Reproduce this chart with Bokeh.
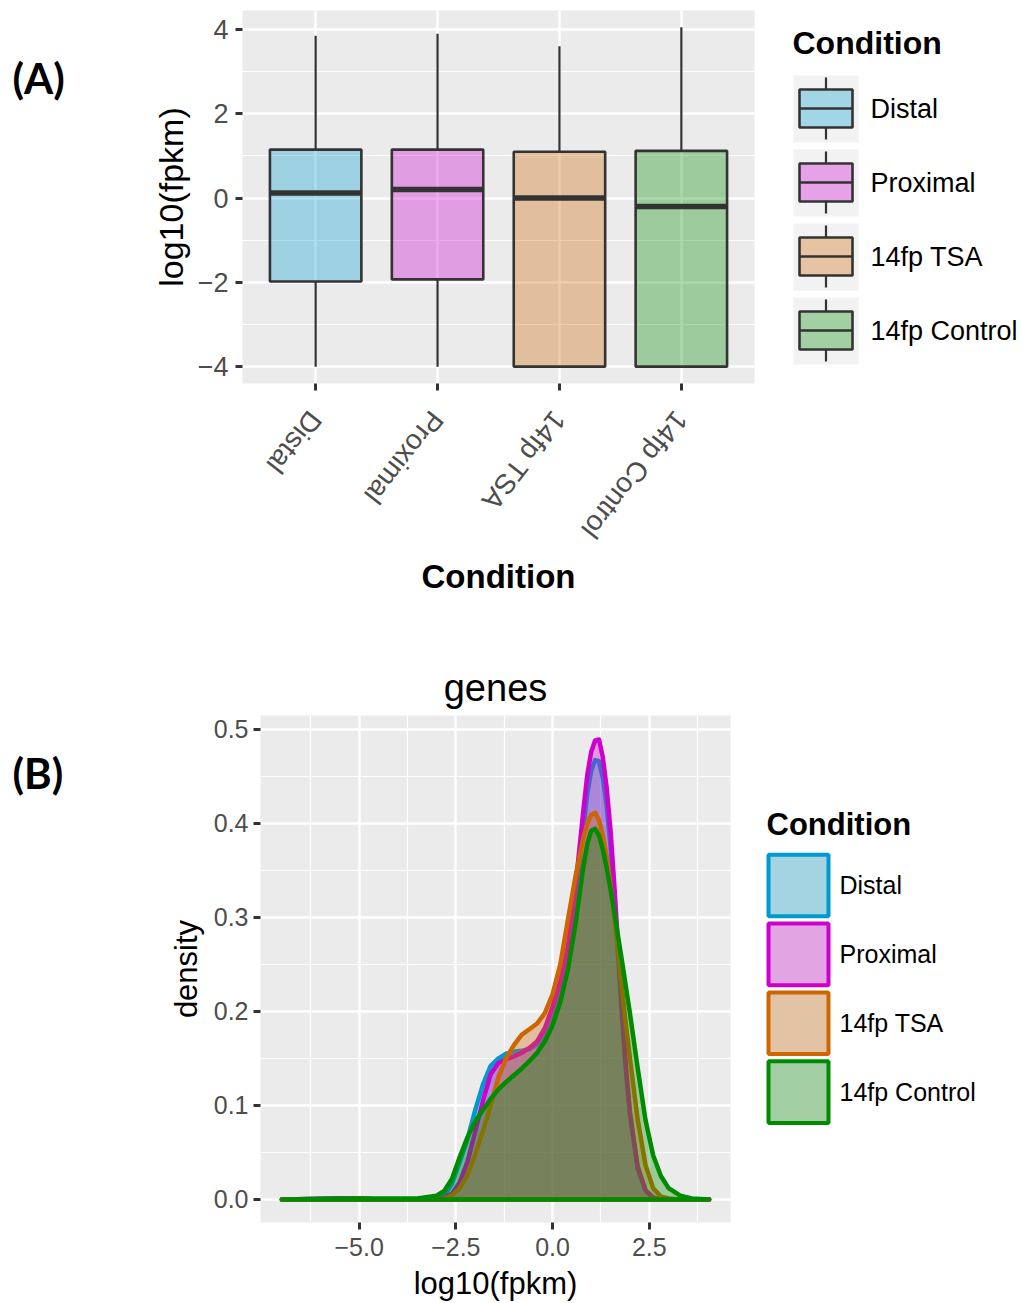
import math
from bokeh.plotting import figure
from bokeh.layouts import row, column
from bokeh.models import (Range1d, FixedTicker, CustomJSTickFormatter, ColumnDataSource)
from bokeh.embed import file_html
from bokeh.resources import INLINE
from bokeh.core.properties import value

# ---------------- data ----------------
categories = ["Distal", "Proximal", "14fp TSA", "14fp Control"]
line_colors = ["#009ACD", "#CD00CD", "#CD6600", "#008B00"]
panel_tags = ["(A)", "(B)"]

# panel A: box plot statistics of log10(fpkm)
whisker_high = [3.85, 3.90, 3.60, 4.05]
q3_vals = [1.15, 1.15, 1.10, 1.12]
median_vals = [0.12, 0.20, 0.00, -0.20]
q1_vals = [-1.98, -1.93, -4.00, -4.00]
whisker_low = [-4.00, -4.00, -4.00, -4.00]
y_ticks_a = [-4, -2, 0, 2, 4]
y_minor_a = [-3, -1, 1, 3]

# panel B: density curves of log10(fpkm)
density_x = [-7.0, -5.5, -5.0, -4.5, -3.5, -3.0, -2.8, -2.6, -2.4, -2.2, -2.0,
             -1.8, -1.6, -1.4, -1.2, -1.0, -0.8, -0.6, -0.4, -0.2, 0.0, 0.2,
             0.4, 0.6, 0.8, 0.9, 1.0, 1.1, 1.2, 1.3, 1.4, 1.5, 1.6, 1.7, 1.8,
             1.9, 2.0, 2.2, 2.4, 2.6, 2.8, 3.0, 3.3, 3.6, 4.05]
density_distal = [0, 0.001, 0.001, 0, 0, 0.001, 0.004, 0.017, 0.040, 0.064, 0.095,
                  0.122, 0.142, 0.150, 0.155, 0.157, 0.158, 0.160, 0.165, 0.175, 0.192, 0.220,
                  0.262, 0.322, 0.395, 0.432, 0.456, 0.467, 0.466, 0.448, 0.418, 0.375, 0.318, 0.255, 0.190,
                  0.135, 0.090, 0.033, 0.010, 0.002, 0, 0, 0, 0, 0]
density_proximal = [0, 0.001, 0.001, 0, 0, 0, 0.002, 0.006, 0.018, 0.040, 0.072,
                    0.105, 0.133, 0.145, 0.149, 0.152, 0.156, 0.161, 0.168, 0.182, 0.205, 0.232,
                    0.270, 0.335, 0.415, 0.452, 0.476, 0.488, 0.489, 0.470, 0.437, 0.392, 0.332, 0.265, 0.197,
                    0.140, 0.093, 0.035, 0.010, 0.002, 0, 0, 0, 0, 0]
density_tsa = [0, 0, 0.001, 0, 0, 0, 0.001, 0.004, 0.012, 0.026, 0.048,
               0.073, 0.100, 0.130, 0.150, 0.164, 0.175, 0.181, 0.187, 0.198, 0.218, 0.250,
               0.298, 0.345, 0.385, 0.400, 0.409, 0.411, 0.403, 0.387, 0.364, 0.334, 0.300, 0.262, 0.222,
               0.185, 0.150, 0.085, 0.037, 0.012, 0.003, 0.001, 0, 0, 0]
density_control = [0, 0.001, 0.001, 0.001, 0.001, 0.004, 0.009, 0.022, 0.045, 0.066, 0.083,
                   0.095, 0.107, 0.117, 0.125, 0.132, 0.139, 0.147, 0.156, 0.168, 0.185, 0.210,
                   0.245, 0.295, 0.355, 0.378, 0.392, 0.394, 0.387, 0.372, 0.352, 0.330, 0.305, 0.278, 0.252,
                   0.225, 0.198, 0.140, 0.085, 0.047, 0.025, 0.012, 0.004, 0.001, 0]
density_series = [density_distal, density_proximal, density_tsa, density_control]
x_ticks_b = [-5.0, -2.5, 0.0, 2.5]
x_minor_b = [-6.25, -3.75, -1.25, 1.25, 3.75]
y_ticks_b = [0.0, 0.1, 0.2, 0.3, 0.4, 0.5]
y_minor_b = [0.05, 0.15, 0.25, 0.35, 0.45]

# ---------------- style ----------------
FONT = "Liberation Sans"
PANEL_BG = "#EBEBEB"
TICK_COL = "#4D4D4D"
DARK = "#333333"
FILL_ALPHA = 0.33
DENS_ALPHA = 0.35


def style_axes(p, tick_px, title_px):
    for ax in (p.xaxis, p.yaxis):
        ax.axis_line_color = None
        ax.major_tick_line_color = DARK
        ax.major_tick_line_width = 3
        ax.major_tick_out = 7
        ax.major_tick_in = 0
        ax.minor_tick_line_color = None
        ax.major_label_text_font = FONT
        ax.major_label_text_font_size = tick_px
        ax.major_label_text_color = TICK_COL
        ax.axis_label_text_font = FONT
        ax.axis_label_text_font_size = title_px
        ax.axis_label_text_color = "black"
        ax.axis_label_text_font_style = "normal"
    p.grid.grid_line_color = "white"
    p.grid.grid_line_width = 2.4
    p.grid.minor_grid_line_color = "white"
    p.grid.minor_grid_line_width = 1.2
    p.background_fill_color = PANEL_BG
    p.outline_line_color = None


def blank_fig(width, height, xr, yr, top, bottom):
    f = figure(width=width, height=height, output_backend="svg", toolbar_location=None,
               x_range=Range1d(*xr), y_range=Range1d(*yr),
               min_border_left=0, min_border_right=0, min_border_top=top,
               min_border_bottom=bottom, x_axis_location=None, y_axis_location=None)
    f.grid.visible = False
    f.outline_line_color = None
    f.background_fill_color = "white"
    return f


# ---------------- row A ----------------
A_H, A_TOP, A_BOT = 610, 10, 227          # frame spans y 10..383
positions = [i + 1 for i in range(len(categories))]
half = 0.375

pa = figure(width=690, height=A_H, output_backend="svg", toolbar_location=None,
            x_range=Range1d(0.4, 4.6), y_range=Range1d(-4.40, 4.45),
            min_border_left=152, min_border_right=26, min_border_top=A_TOP,
            min_border_bottom=A_BOT)
style_axes(pa, "27px", "34px")
pa.xaxis.ticker = FixedTicker(ticks=positions)
pa.xaxis.major_label_overrides = {p: c for p, c in zip(positions, categories)}
pa.xaxis.major_label_orientation = -math.radians(128)
pa.xaxis.major_label_text_font_size = "28px"
pa.xaxis.major_label_standoff = 24
pa.xaxis.axis_label = "Condition"
pa.xaxis.axis_label_text_font_size = "33px"
pa.xaxis.axis_label_text_font_style = "bold"
pa.xaxis.axis_label_standoff = 39
pa.yaxis.ticker = FixedTicker(ticks=y_ticks_a, minor_ticks=y_minor_a)
pa.yaxis.formatter = CustomJSTickFormatter(
    code="return (tick < 0 ? '\u2212' : '') + Math.abs(tick).toFixed(0);")
pa.yaxis.major_label_standoff = 7
pa.yaxis.axis_label = "log10(fpkm)"
pa.yaxis.axis_label_standoff = 5
pa.xgrid.minor_grid_line_color = None

box_src = ColumnDataSource(dict(
    x=positions, q1=q1_vals, q3=q3_vals, med=median_vals,
    lo=whisker_low, hi=whisker_high, color=line_colors,
    x0=[p - half for p in positions], x1=[p + half for p in positions]))
pa.segment(x0="x", y0="q3", x1="x", y1="hi", source=box_src, line_color=DARK, line_width=2.2)
pa.segment(x0="x", y0="q1", x1="x", y1="lo", source=box_src, line_color=DARK, line_width=2.2)
pa.vbar(x="x", width=2 * half, top="q3", bottom="q1", source=box_src,
        fill_color="color", fill_alpha=FILL_ALPHA, line_color=DARK, line_width=2.6)
pa.segment(x0="x0", y0="med", x1="x1", y1="med", source=box_src, line_color=DARK, line_width=5.5)

# tag column A (local x, image y)
ta = blank_fig(90, A_H, (0, 90), (383, 10), A_TOP, A_BOT)
ta.text(x=[12], y=[77], text=[panel_tags[0]], text_font=value("Lato"), text_font_size=value("42px"),
        text_font_style="bold", text_baseline="middle", text_align="left", text_color="black")

# legend A (local x = image x - 780, image y)
la = blank_fig(243, A_H, (0, 243), (383, 10), A_TOP, A_BOT)
ya = [108 + 74 * i for i in range(len(categories))]
leg_a = ColumnDataSource(dict(
    yc=ya, color=line_colors, text=categories,
    ktop=[y - 33 for y in ya], kbot=[y + 34 for y in ya],
    btop=[y - 19 for y in ya], bbot=[y + 19 for y in ya],
    wtop=[y - 31 for y in ya], wbot=[y + 31 for y in ya]))
la.quad(left=13, right=78, top="ktop", bottom="kbot", source=leg_a, fill_color="#F2F2F2", line_color=None)
la.segment(x0=45.5, y0="wtop", x1=45.5, y1="btop", source=leg_a, line_color=DARK, line_width=2.2)
la.segment(x0=45.5, y0="bbot", x1=45.5, y1="wbot", source=leg_a, line_color=DARK, line_width=2.2)
la.quad(left=19, right=72, top="btop", bottom="bbot", source=leg_a, fill_color="color",
        fill_alpha=FILL_ALPHA, line_color=DARK, line_width=2.6)
la.segment(x0=19, y0="yc", x1=72, y1="yc", source=leg_a, line_color=DARK, line_width=2.6)
la.text(x=90, y="yc", text="text", source=leg_a, text_font=value(FONT), text_font_size=value("27px"),
        text_baseline="middle", text_align="left", text_color="black")
la.text(x=[12], y=[42], text=["Condition"], text_font=value(FONT), text_font_size=value("32px"),
        text_font_style="bold", text_baseline="middle", text_align="left", text_color="black")

# ---------------- row B ----------------
B_H, B_TOP, B_BOT = 693, 105, 78          # frame spans y 715..1225
pb = figure(width=665, height=B_H, output_backend="svg", toolbar_location=None,
            x_range=Range1d(-7.55, 4.6), y_range=Range1d(-0.0245, 0.5145),
            min_border_left=170, min_border_right=25, min_border_top=B_TOP,
            min_border_bottom=B_BOT, title="genes")
style_axes(pb, "25px", "31px")
pb.title.align = "center"
pb.title.text_font = FONT
pb.title.text_font_size = "38px"
pb.title.text_font_style = "normal"
pb.title.text_color = "black"
pb.title.standoff = 13
pb.xaxis.ticker = FixedTicker(ticks=x_ticks_b, minor_ticks=x_minor_b)
pb.yaxis.ticker = FixedTicker(ticks=y_ticks_b, minor_ticks=y_minor_b)
pb.xaxis.formatter = CustomJSTickFormatter(
    code="return (tick < -1e-9 ? '\u2212' : '') + Math.abs(tick).toFixed(1);")
pb.yaxis.formatter = CustomJSTickFormatter(
    code="return (tick < -1e-9 ? '\u2212' : '') + Math.abs(tick).toFixed(1);")
pb.xaxis.major_label_standoff = 8
pb.xaxis.axis_label = "log10(fpkm)"
pb.xaxis.axis_label_standoff = 7
pb.yaxis.major_label_standoff = 5
pb.yaxis.axis_label = "density"
pb.yaxis.axis_label_standoff = 7

for ys, c in zip(density_series, line_colors):
    pb.patch(density_x, ys, fill_color=c, fill_alpha=DENS_ALPHA, line_color=c, line_width=4.5,
             line_join="round")

tb = blank_fig(90, B_H, (0, 90), (1225, 715), B_TOP, B_BOT)
tb.text(x=[12], y=[773], text=[panel_tags[1]], text_font=value("Lato"), text_font_size=value("42px"),
        text_font_style="bold", text_baseline="middle", text_align="left", text_color="black")

# legend B (local x = image x - 755, image y)
lb = blank_fig(268, B_H, (0, 268), (1225, 715), B_TOP, B_BOT)
yb = [886 + 69.3 * i for i in range(len(categories))]
leg_b = ColumnDataSource(dict(yc=yb, color=line_colors, text=categories,
                              top=[y - 31 for y in yb], bot=[y + 31 for y in yb]))
lb.quad(left=13, right=73, top="top", bottom="bot", source=leg_b, fill_color=PANEL_BG, line_color=None)
lb.quad(left=13, right=73, top="top", bottom="bot", source=leg_b, fill_color="color",
        fill_alpha=0.3, line_color="color", line_width=4)
lb.text(x=84, y="yc", text="text", source=leg_b, text_font=value(FONT), text_font_size=value("25px"),
        text_baseline="middle", text_align="left", text_color="black")
lb.text(x=[11], y=[825], text=["Condition"], text_font=value(FONT), text_font_size=value("31px"),
        text_font_style="bold", text_baseline="middle", text_align="left", text_color="black")

layout = column(row(ta, pa, la), row(tb, pb, lb))
open("out.html", "w").write(file_html(layout, INLINE))
